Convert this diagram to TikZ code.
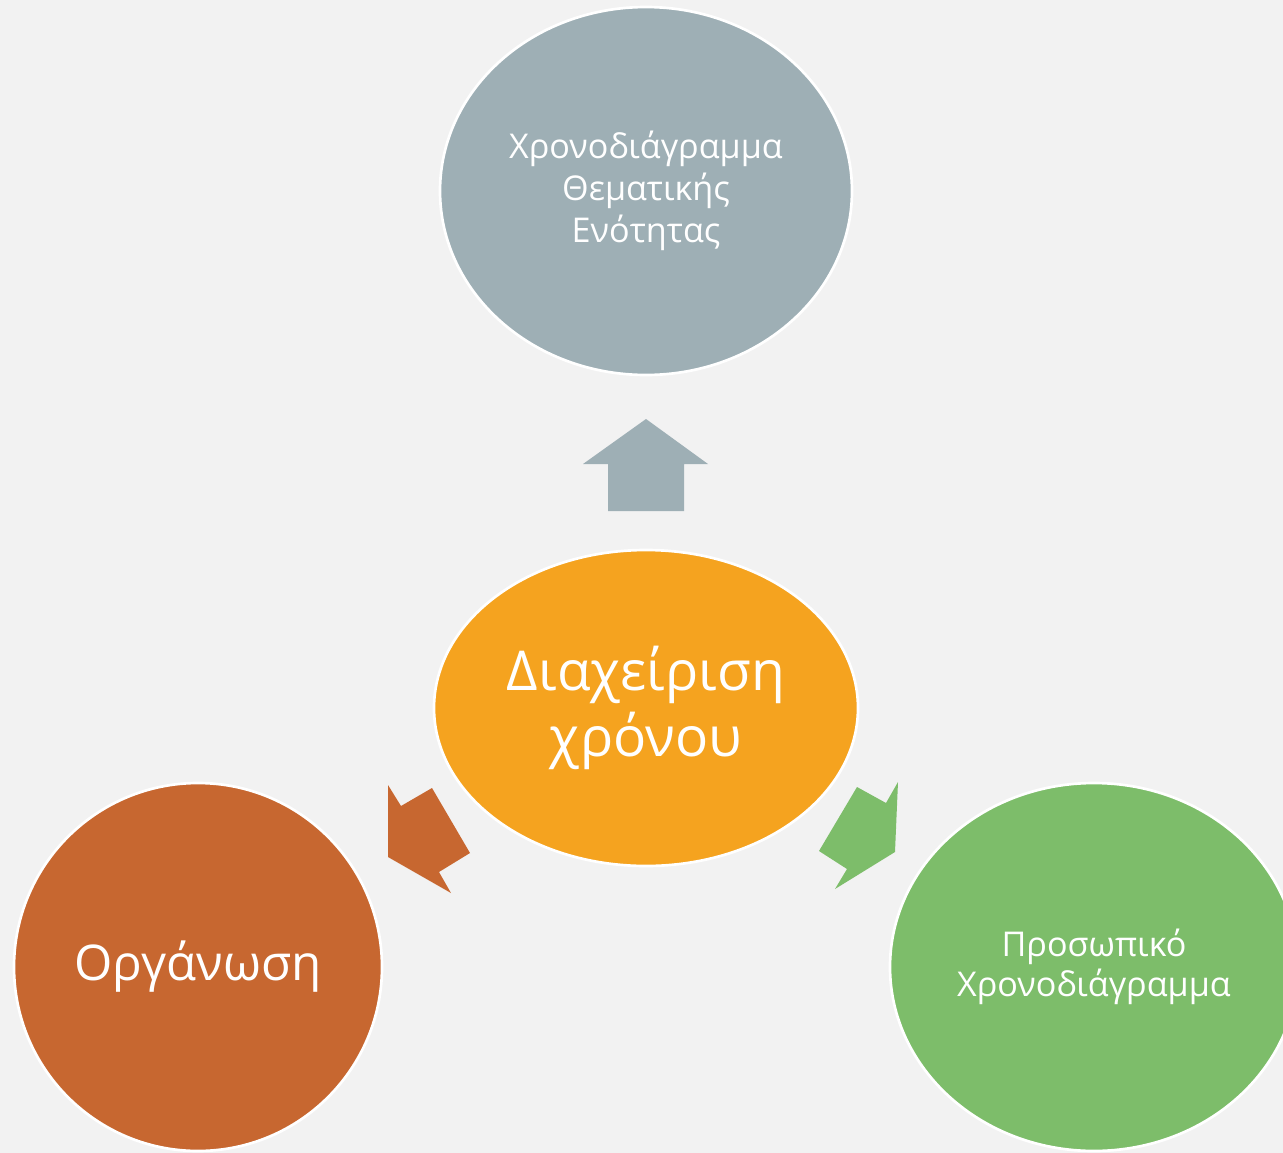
\documentclass[tikz,border=0pt]{standalone}
\usepackage{fontspec}
\setmainfont{Open Sans}
\usetikzlibrary{shapes.geometric}
\definecolor{bg}{HTML}{F2F2F2}
\definecolor{cgray}{HTML}{9EAFB5}
\definecolor{corange}{HTML}{F5A31F}
\definecolor{cbrown}{HTML}{C76730}
\definecolor{cgreen}{HTML}{7DBD6A}
\tikzset{
  bubble/.style={ellipse, draw=white, line width=2pt, inner sep=0pt, text=white, align=center},
  arrowshape/.style={draw=none}
}
\begin{document}
\begin{tikzpicture}[x=0.75pt,y=-0.75pt]
\useasboundingbox (0,0) rectangle (1283,1153);
\fill[bg] (0,0) rectangle (1283,1153);
\begin{scope}
\clip (0,0) rectangle (1283,1153);
\node[bubble, fill=cgray, minimum width=412*0.75pt, minimum height=368*0.75pt,
  font=\fontsize{25.6pt}{31.5pt}\selectfont] (top) at (646,191)
  {Χρονοδιάγραμμα\\Θεματικής\\Ενότητας};
\node[bubble, fill=corange, minimum width=424*0.75pt, minimum height=316*0.75pt,
  font=\fontsize{41.3pt}{50pt}\selectfont] (center) at (646,708)
  {Διαχείριση\\χρόνου};
\node[bubble, fill=cbrown, minimum width=368*0.75pt, minimum height=368*0.75pt,
  font=\fontsize{36.9pt}{45pt}\selectfont] (left) at (198,967)
  {Οργάνωση};
\node[bubble, fill=cgreen, minimum width=408*0.75pt, minimum height=368*0.75pt,
  font=\fontsize{25.6pt}{30pt}\selectfont] (right) at (1094,967)
  {Προσωπικό\\Χρονοδιάγραμμα};
\end{scope}
% up arrow
\fill[cgray, arrowshape] (646,419) -- (708,464) -- (684,464) -- (684,511) -- (608,511) -- (608,464) -- (583,464) -- cycle;
% left arrow
\fill[cbrown, arrowshape] (388,857) -- (388,785) -- (401,806) -- (432,788) -- (470,853) -- (439,872) -- (451,893) -- cycle;
% right arrow
\fill[cgreen, arrowshape] (895,852) -- (835,889) -- (847,869) -- (819,851) -- (857,787) -- (886,803) -- (898,782) -- cycle;
\end{tikzpicture}
\end{document}
